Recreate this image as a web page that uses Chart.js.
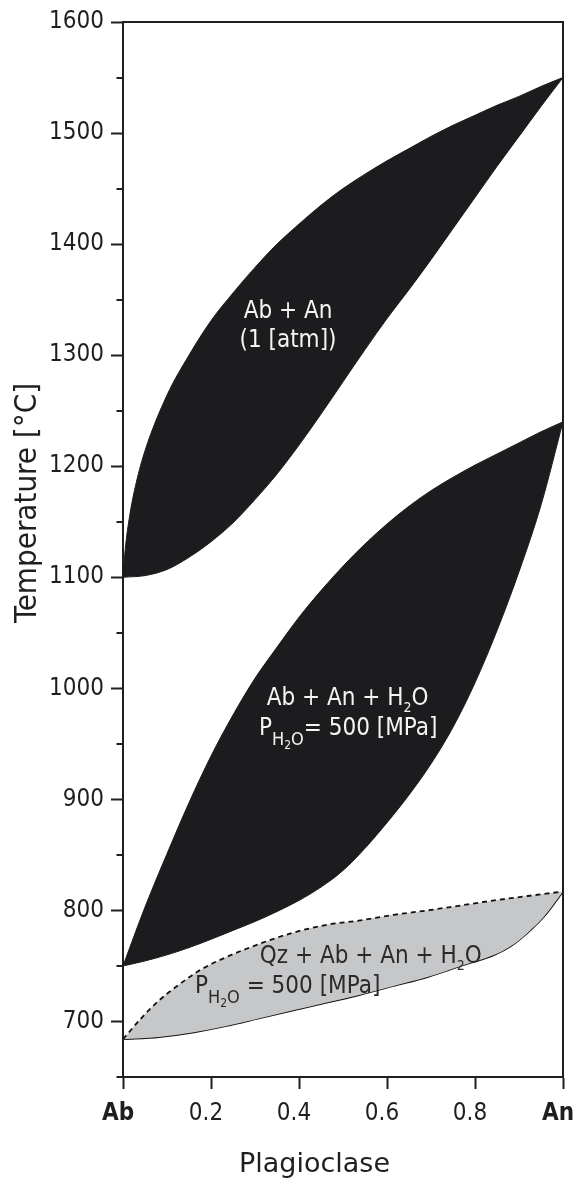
<!DOCTYPE html>
<html><head><meta charset="utf-8">
<script src="https://cdn.jsdelivr.net/npm/chart.js@4.4.1/dist/chart.umd.min.js"></script>
<style>html,body{margin:0;padding:0;background:#fff;}#wrap{width:576px;height:1182px;}</style>
</head><body><div id="wrap"><canvas id="c" width="576" height="1182"></canvas></div>
<script>
// ---- data ----
const xTickValues = [0, 0.2, 0.4, 0.6, 0.8, 1];
const xTickLabels = ['Ab', '0.2', '0.4', '0.6', '0.8', 'An'];
const yTickValues = [700, 800, 900, 1000, 1100, 1200, 1300, 1400, 1500, 1600];
const yMinorTicks = [650, 750, 850, 950, 1050, 1150, 1250, 1350, 1450, 1550];

// Ab + An at 1 atm
const atmUpperX = [0, 0.005, 0.015, 0.03, 0.05, 0.1, 0.15, 0.2, 0.25, 0.3, 0.35, 0.4, 0.45, 0.5, 0.55, 0.6, 0.65, 0.7, 0.75, 0.8, 0.85, 0.9, 0.95, 1];
const atmUpperT = [1100, 1125, 1155, 1185, 1214, 1264, 1300, 1331, 1356, 1379, 1400, 1418, 1435, 1450, 1463, 1475, 1486, 1497, 1507, 1516, 1525, 1533, 1542, 1550];
const atmLowerX = [0, 0.05, 0.1, 0.15, 0.2, 0.25, 0.3, 0.35, 0.4, 0.45, 0.5, 0.55, 0.6, 0.65, 0.7, 0.75, 0.8, 0.85, 0.9, 0.95, 1];
const atmLowerT = [1100, 1101.5, 1107, 1118, 1132, 1149, 1170, 1193, 1219, 1247, 1276, 1305, 1333, 1359, 1386, 1414, 1442, 1470, 1497, 1524, 1550];

// Ab + An + H2O, P(H2O) = 500 MPa
const wetUpperX = [0, 0.05, 0.1, 0.15, 0.2, 0.25, 0.3, 0.35, 0.4, 0.45, 0.5, 0.55, 0.6, 0.65, 0.7, 0.75, 0.8, 0.85, 0.9, 0.95, 1];
const wetUpperT = [750, 803, 851, 897, 939, 976, 1009, 1037, 1064, 1088, 1110, 1130, 1148, 1164, 1178, 1190, 1201, 1211, 1221, 1231, 1240];
const wetLowerX = [0, 0.05, 0.1, 0.15, 0.2, 0.25, 0.3, 0.35, 0.4, 0.45, 0.5, 0.55, 0.6, 0.65, 0.7, 0.75, 0.8, 0.85, 0.9, 0.95, 1];
const wetLowerT = [750, 754.5, 760, 766.5, 774, 782, 790, 799, 809, 821, 836, 856, 879, 904, 932, 965, 1005, 1052, 1105, 1165, 1240];

// Qz + Ab + An + H2O, P(H2O) = 500 MPa
const qzUpperX = [0, 0.044, 0.082, 0.12, 0.174, 0.235, 0.311, 0.387, 0.463, 0.539, 0.615, 0.692, 0.768, 0.844, 0.92, 1];
const qzUpperT = [684, 704, 719, 731, 746, 758, 770, 780, 787, 791, 796, 800, 804.5, 809, 813, 817];
const qzLowerX = [0, 0.082, 0.158, 0.235, 0.311, 0.387, 0.463, 0.539, 0.615, 0.692, 0.768, 0.844, 0.882, 0.92, 0.958, 1];
const qzLowerT = [684, 686, 690, 696, 703, 710, 717, 724, 732, 740, 750, 760, 768, 780, 795, 817];

// ---- styling ----
const COND = "'DejaVu Sans Condensed', 'DejaVu Sans', sans-serif";
const REG = "'DejaVu Sans', sans-serif";
const INK = '#1f1f1f';
const BLACK = '#1c1b1e';
const GREY = '#c6c7c9';

function pts(xs, ys) { return xs.map((x, i) => ({ x: x, y: ys[i] })); }

const annotations = [
  { x: 0.375, y: 1333.5, align: 'center', color: '#f4f4f4', runs: [{ t: 'Ab + An' }] },
  { x: 0.375, y: 1307.3, align: 'center', color: '#f4f4f4', runs: [{ t: '(1 [atm])' }] },
  { x: 0.3266, y: 985, align: 'left', color: '#f4f4f4', runs: [{ t: 'Ab + An + H' }, { t: '2', size: 14, dy: 7 }, { t: 'O' }] },
  { x: 0.309, y: 958, align: 'left', color: '#f4f4f4', runs: [{ t: 'P' }, { t: 'H', size: 18, dy: 10 }, { t: '2', size: 12, dy: 14 }, { t: 'O', size: 18, dy: 10 }, { t: '= 500 [MPa]' }] },
  { x: 0.311, y: 752.6, align: 'left', color: '#2a2a2a', runs: [{ t: 'Qz + Ab + An + H' }, { t: '2', size: 14, dy: 7 }, { t: 'O' }] },
  { x: 0.1636, y: 725.6, align: 'left', color: '#2a2a2a', runs: [{ t: 'P' }, { t: 'H', size: 18, dy: 10 }, { t: '2', size: 12, dy: 14 }, { t: 'O', size: 18, dy: 10 }, { t: ' = 500 [MPa]' }] }
];

function drawRuns(ctx, a, px, py) {
  let total = 0;
  a.runs.forEach(r => { ctx.font = (r.size || 24) + 'px ' + COND; r.w = ctx.measureText(r.t).width; total += r.w; });
  let cx = a.align === 'center' ? px - total / 2 : px;
  ctx.fillStyle = a.color; ctx.textAlign = 'left'; ctx.textBaseline = 'alphabetic';
  a.runs.forEach(r => { ctx.font = (r.size || 24) + 'px ' + COND; ctx.fillText(r.t, cx, py + (r.dy || 0)); cx += r.w; });
}

const decor = {
  id: 'decor',
  afterDatasetsDraw(chart) {
    const ctx = chart.ctx, xs = chart.scales.x, ys = chart.scales.y;
    ctx.save();
    annotations.forEach(a => drawRuns(ctx, a, xs.getPixelForValue(a.x), ys.getPixelForValue(a.y)));
    ctx.restore();
  },
  afterDraw(chart) {
    const ctx = chart.ctx, ca = chart.chartArea, ys = chart.scales.y;
    ctx.save();
    ctx.strokeStyle = INK; ctx.lineWidth = 2;
    ctx.beginPath();
    ctx.moveTo(ca.left, ca.top); ctx.lineTo(ca.right, ca.top); ctx.lineTo(ca.right, ca.bottom);
    ctx.stroke();
    yMinorTicks.forEach(v => {
      const p = Math.round(ys.getPixelForValue(v));
      ctx.beginPath(); ctx.moveTo(ca.left - 6.5, p); ctx.lineTo(ca.left, p); ctx.stroke();
    });
    // axis titles
    ctx.fillStyle = INK;
    ctx.font = '27px ' + REG; ctx.textAlign = 'center'; ctx.textBaseline = 'alphabetic';
    ctx.fillText('Plagioclase', 314.5, 1172);
    ctx.translate(36, 503); ctx.rotate(-Math.PI / 2);
    ctx.font = '31px ' + COND;
    ctx.fillText('Temperature [°C]', 0, 0);
    ctx.restore();
  }
};

new Chart(document.getElementById('c'), {
  type: 'scatter',
  data: {
    datasets: [
      { data: pts(atmUpperX, atmUpperT), showLine: true, fill: '+1', backgroundColor: BLACK, borderColor: BLACK, borderWidth: 1, pointRadius: 0, cubicInterpolationMode: 'monotone' },
      { data: pts(atmLowerX, atmLowerT), showLine: true, fill: false, borderColor: BLACK, borderWidth: 1, pointRadius: 0, cubicInterpolationMode: 'monotone' },
      { data: pts(wetUpperX, wetUpperT), showLine: true, fill: '+1', backgroundColor: BLACK, borderColor: BLACK, borderWidth: 1, pointRadius: 0, cubicInterpolationMode: 'monotone' },
      { data: pts(wetLowerX, wetLowerT), showLine: true, fill: false, borderColor: BLACK, borderWidth: 1, pointRadius: 0, cubicInterpolationMode: 'monotone' },
      { data: pts(qzUpperX, qzUpperT), showLine: true, fill: '+1', backgroundColor: GREY, borderColor: '#111', borderWidth: 1.8, borderDash: [5, 4], pointRadius: 0, cubicInterpolationMode: 'monotone' },
      { data: pts(qzLowerX, qzLowerT), showLine: true, fill: false, borderColor: '#111', borderWidth: 1.8, pointRadius: 0, cubicInterpolationMode: 'monotone' }
    ]
  },
  options: {
    responsive: false,
    devicePixelRatio: 1,
    animation: false,
    layout: { padding: { top: 22, right: 13, left: 0, bottom: 0 } },
    plugins: { legend: { display: false }, tooltip: { enabled: false } },
    scales: {
      x: {
        type: 'linear', min: 0, max: 1,
        afterBuildTicks: s => { s.ticks = xTickValues.map(v => ({ value: v })); },
        afterFit: s => { s.height = 105; s.paddingLeft = 0; s.paddingRight = 0; },
        ticks: {
          color: INK, padding: 10, maxRotation: 0, autoSkip: false, labelOffset: -5,
          font: c => ({ family: COND, size: 24, weight: (c.tick && (c.tick.value === 0 || c.tick.value === 1)) ? 'bold' : 'normal' }),
          callback: v => xTickLabels[xTickValues.indexOf(v)]
        },
        grid: { drawOnChartArea: false, tickLength: 12, tickWidth: 2, tickColor: INK },
        border: { display: true, color: INK, width: 2 }
      },
      y: {
        type: 'linear', min: 650, max: 1600,
        afterBuildTicks: s => { s.ticks = yTickValues.map(v => ({ value: v })); },
        afterFit: s => { s.width = 123; s.paddingTop = 0; s.paddingBottom = 0; },
        ticks: { color: INK, padding: 7, font: { family: COND, size: 24 }, callback: v => String(v) },
        grid: { drawOnChartArea: false, tickLength: 12, tickWidth: 2, tickColor: INK },
        border: { display: true, color: INK, width: 2 }
      }
    }
  },
  plugins: [decor]
});
</script></body></html>
